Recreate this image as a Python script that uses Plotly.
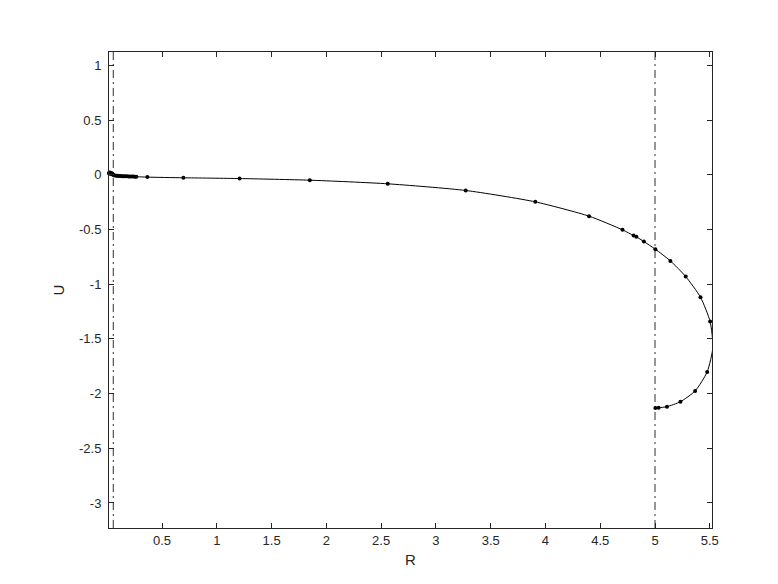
import plotly.graph_objects as go

# trajectory points (R, U), left end -> turning point -> end
R = [0.016, 0.018, 0.021, 0.025, 0.029, 0.034, 0.040, 0.046, 0.052,
     0.060, 0.070, 0.082, 0.095, 0.108, 0.122, 0.136, 0.150, 0.165,
     0.180, 0.195, 0.210, 0.225, 0.240, 0.254, 0.266,
     0.366, 0.695, 1.208, 1.849, 2.560, 3.272, 3.907, 4.398, 4.703,
     4.804, 4.830, 4.898, 5.003, 5.140, 5.280, 5.415, 5.503, 5.528,
     5.476, 5.366, 5.232, 5.109, 5.033, 5.003]
U = [0.012, 0.020, 0.016, 0.022, 0.010, 0.017, 0.006, 0.012, 0.002,
     -0.004, -0.006, -0.008, -0.009, -0.010, -0.011, -0.012, -0.013, -0.014,
     -0.014, -0.015, -0.015, -0.016, -0.016, -0.017, -0.017,
     -0.021, -0.027, -0.034, -0.049, -0.082, -0.143, -0.247, -0.378, -0.503,
     -0.555, -0.567, -0.610, -0.680, -0.787, -0.930, -1.119, -1.342, -1.577,
     -1.802, -1.976, -2.074, -2.120, -2.129, -2.132]

# dash-dot reference lines
vlines = [0.055, 5.0]

xticks = [0.5, 1, 1.5, 2, 2.5, 3, 3.5, 4, 4.5, 5, 5.5]
xlabels = ['0.5', '1', '1.5', '2', '2.5', '3', '3.5', '4', '4.5', '5', '5.5']
yticks = [1, 0.5, 0, -0.5, -1, -1.5, -2, -2.5, -3]
ylabels = ['1', '0.5', '0', '-0.5', '-1', '-1.5', '-2', '-2.5', '-3']

axcol = '#262626'
font = dict(family='Liberation Sans, Arial, sans-serif', size=13, color=axcol)

fig = go.Figure()

for xv in vlines:
    fig.add_trace(go.Scatter(
        x=[xv, xv], y=[-3.229, 1.123], mode='lines',
        line=dict(color='#303030', width=1, dash='8px,4px,2px,4px'),
        hoverinfo='skip', showlegend=False))

fig.add_trace(go.Scatter(
    x=R, y=U, mode='lines+markers',
    line=dict(color='black', width=1, shape='spline', smoothing=0.6),
    marker=dict(color='black', size=4),
    cliponaxis=False, showlegend=False))

axis_common = dict(
    showgrid=False, zeroline=False, showline=True, linecolor=axcol,
    linewidth=1, mirror='ticks', ticks='inside', ticklen=5, tickwidth=1,
    tickcolor=axcol, tickfont=font,
)

fig.update_layout(
    width=778, height=584,
    margin=dict(l=101, r=74, t=44, b=64),
    paper_bgcolor='white', plot_bgcolor='white',
    font=font,
    xaxis=dict(range=[0.016, 5.52], tickvals=xticks, ticktext=xlabels,
               ticklabelstandoff=0,
               title=dict(text='R', font=dict(size=15, color=axcol), standoff=7),
               **axis_common),
    yaxis=dict(range=[-3.229, 1.123], tickvals=yticks, ticktext=ylabels,
               ticklabelstandoff=4,
               title=dict(text='U', font=dict(size=15, color=axcol), standoff=10),
               **axis_common),
)

fig.write_html("out.html")
